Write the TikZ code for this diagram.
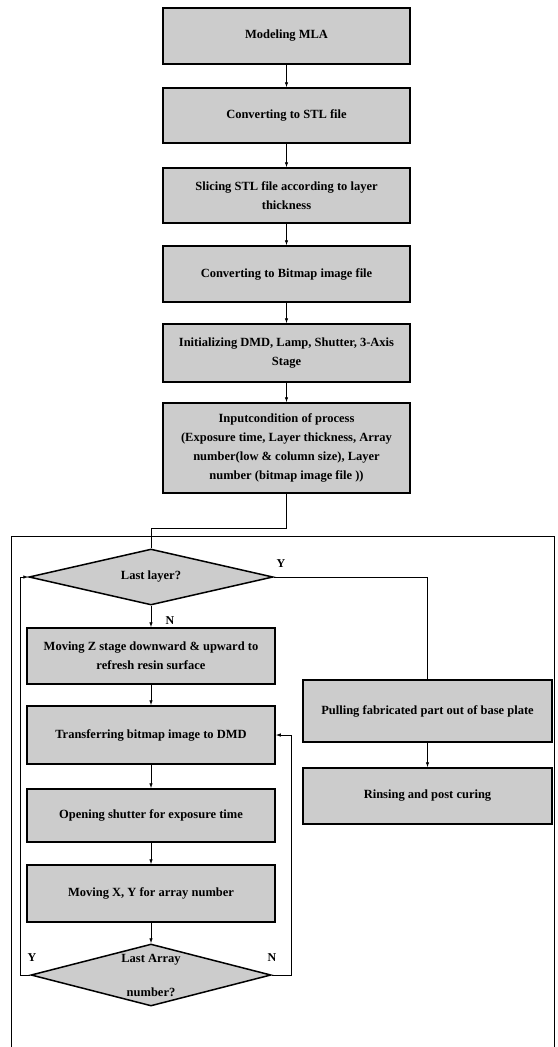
\documentclass[tikz,border=0pt]{standalone}
\usepackage{fontspec}
\setmainfont{Liberation Serif}
\usetikzlibrary{shapes.geometric,arrows.meta}
\begin{document}
\begin{tikzpicture}[x=1pt,y=-1pt,
  box/.style={draw=black, line width=1.5pt, fill=black!20, align=center,
    inner sep=1pt, font=\fontsize{12.5}{19}\selectfont\bfseries},
  dec/.style={draw=black, diamond, line width=1.5pt, fill=black!20, align=center,
    inner sep=0pt, shape aspect=4, font=\fontsize{12.5}{19}\selectfont\bfseries},
  conn/.style={line width=0.8pt},
  arr/.style={line width=0.8pt, -{Latex[length=5pt,width=3.5pt]}},
  lab/.style={font=\fontsize{12}{14}\selectfont\bfseries}
]
\useasboundingbox (0,0) rectangle (557,1047);
\fill[white] (0,0) rectangle (557,1047);

% top column
\node[box, minimum width=247pt, minimum height=56pt] (b1) at (286.5,36) {Modeling MLA};
\node[box, minimum width=247pt, minimum height=55pt] (b2) at (286.5,115.5) {Converting to STL file};
\node[box, minimum width=247pt, minimum height=55pt] (b3) at (286.5,195.5) {Slicing STL file according to layer\\thickness};
\node[box, minimum width=247pt, minimum height=56pt] (b4) at (286.5,274) {Converting  to Bitmap image file};
\node[box, minimum width=247pt, minimum height=58pt] (b5) at (286.5,353) {Initializing DMD, Lamp, Shutter, 3-Axis\\Stage};
\node[box, minimum width=247pt, minimum height=90pt] (b6) at (286.5,448) {Inputcondition of process\\(Exposure time, Layer thickness, Array\\number(low \& column size), Layer\\number (bitmap image file ))};

\draw[arr] (b1) -- (b2);
\draw[arr] (b2) -- (b3);
\draw[arr] (b3) -- (b4);
\draw[arr] (b4) -- (b5);
\draw[arr] (b5) -- (b6);

% frame
\coordinate (fbl) at (11,1047);
\coordinate (ftl) at (11,536);
\coordinate (ftr) at (554,536);
\coordinate (fbr) at (554,1047);
\draw[line width=1pt] (fbl) -- (ftl) -- (ftr) -- (fbr);

% loop column
\node[dec, minimum width=244pt, minimum height=56pt] (d1) at (151,577) {Last layer?};
\node[box, minimum width=248pt, minimum height=56pt] (mz) at (151,656) {Moving Z stage downward \& upward to\\refresh resin surface};
\node[box, minimum width=248pt, minimum height=58pt] (tr) at (151,735) {Transferring bitmap image  to DMD};
\node[box, minimum width=248pt, minimum height=53pt] (op) at (151,815.5) {Opening shutter  for exposure time};
\node[box, minimum width=248pt, minimum height=57pt] (mxy) at (151,893.5) {Moving X, Y for array number};
\node[dec, minimum width=240pt, minimum height=62pt, font=\fontsize{12.5}{34}\selectfont\bfseries] (d2) at (151,975) {Last Array\\number?};

\node[box, minimum width=249pt, minimum height=62pt] (pull) at (427.5,711) {Pulling fabricated  part out of base plate};
\node[box, minimum width=249pt, minimum height=56pt] (rin) at (427.5,796) {Rinsing and post curing};

\coordinate (jog) at (0,528);
\draw[conn] (b6.south) -- (b6.south |- jog) -| (d1.north);

\draw[arr] (d1.south) -- (mz.north);
\draw[arr] (mz) -- (tr);
\draw[arr] (tr) -- (op);
\draw[arr] (op) -- (mxy);
\draw[arr] (mxy.south) -- (d2.north);

\draw[conn] (d1.east) -| (pull.north);
\draw[arr] (pull) -- (rin);

\coordinate (lx) at (20,0);
\coordinate (rx) at (291,0);
\draw[arr] (d2.west) -- (lx |- d2.west) -- (lx |- d1.west) -- (d1.west);
\draw[arr] (d2.east) -- (rx |- d2.east) -- (rx |- tr.east) -- (tr.east);

\node[lab] (y1) at (281,564) {Y};
\node[lab] (n1) at (170,621) {N};
\node[lab] (y2) at (32,958) {Y};
\node[lab] (n2) at (272,958) {N};
\end{tikzpicture}
\end{document}
